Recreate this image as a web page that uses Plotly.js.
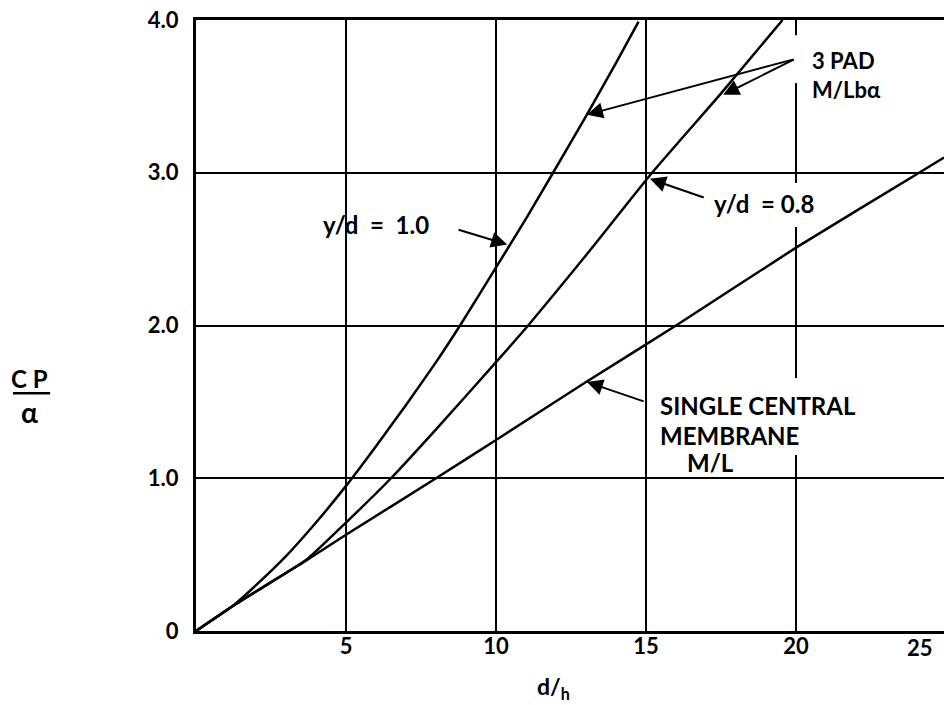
<!DOCTYPE html>
<html>
<head>
<meta charset="utf-8">
<script src="https://cdn.plot.ly/plotly-3.0.1.min.js"></script>
<style>html,body{margin:0;padding:0;background:#fff;}#chart{width:944px;height:705px;}</style>
</head>
<body>
<div id="chart"></div>
<script>
// d/h values and CP/alpha values
const xYd10 = [0, 1.2, 2, 3, 4, 5, 6, 7, 8, 8.8, 10, 11, 11.9, 13, 14, 14.75];
const yYd10 = [0, 0.16, 0.30, 0.49, 0.71, 0.95, 1.21, 1.48, 1.76, 2.0, 2.38, 2.70, 3.0, 3.37, 3.72, 3.99];

const xYd08 = [0, 1.2, 2.5, 3.7, 5, 6.5, 8, 10, 11.07, 13, 15.2, 17.5, 19.55];
const yYd08 = [0, 0.16, 0.32, 0.47, 0.71, 1.0, 1.32, 1.76, 2.0, 2.46, 3.0, 3.52, 4.0];

const xSingle = [0, 1.2, 3.7, 5, 8, 10, 13, 16, 20, 24.1, 24.93];
const ySingle = [0, 0.16, 0.465, 0.63, 1.0, 1.25, 1.63, 2.0, 2.51, 3.0, 3.10];

const xTickVals = [5, 10, 15, 20];
const xTickText = ["5", "10", "15", "20"];
const yTickVals = [0, 1, 2, 3, 4];
const yTickText = ["0", "1.0", "2.0", "3.0", "4.0"];

const FONT = "Lato, 'Open Sans', sans-serif";
const lineStyle = {color: "#000", width: 2.5, shape: "spline", smoothing: 0.5};

const traces = [
  {x: xYd10, y: yYd10, mode: "lines", line: lineStyle, name: "y/d = 1.0", hoverinfo: "skip"},
  {x: xYd08, y: yYd08, mode: "lines", line: lineStyle, name: "y/d = 0.8", hoverinfo: "skip"},
  {x: xSingle, y: ySingle, mode: "lines", line: lineStyle, name: "Single central membrane", hoverinfo: "skip"}
];

function arrow(x, y, ax, ay) {
  return {x: x, y: y, ax: ax, ay: ay, xref: "x", yref: "y", axref: "x", ayref: "y",
          text: "", showarrow: true, arrowhead: 2, arrowsize: 1.6, arrowwidth: 2, arrowcolor: "#000"};
}
function label(text, x, y, xanchor, size) {
  return {x: x, y: y, xref: "x", yref: "y", text: text, showarrow: false, xanchor: xanchor, yanchor: "middle",
          align: "left", font: {family: FONT, size: size || 24, color: "#000", weight: "bold"}};
}

const annotations = [
  label("y/d  =  1.0", 6.0, 2.66, "center"),
  arrow(10.37, 2.53, 8.7, 2.63),
  label("3 PAD<br>M/Lbα", 20.48, 3.643, "left", 22),
  arrow(13.03, 3.38, 19.97, 3.745),
  arrow(17.57, 3.51, 19.97, 3.745),
  label("y/d  = 0.8", 17.2, 2.80, "left"),
  arrow(15.13, 2.96, 16.97, 2.835),
  label("SINGLE CENTRAL", 15.4, 1.475, "left"),
  label("MEMBRANE", 15.4, 1.28, "left"),
  label("M/L", 16.3, 1.10, "left"),
  arrow(13.03, 1.63, 14.97, 1.50),
  {x: 24.13, y: 0, xref: "x", yref: "paper", xanchor: "center", yanchor: "top", yshift: -1, text: "25", showarrow: false,
   font: {family: FONT, size: 22, color: "#000", weight: "bold"}},
  {x: 11.9, y: -0.093, xref: "x", yref: "paper", xanchor: "center", yanchor: "middle", text: "d/<sub>h</sub>", showarrow: false,
   font: {family: FONT, size: 23, color: "#000", weight: "bold"}},
  {x: -0.2225, y: 0.413, xref: "paper", yref: "paper", xanchor: "center", yanchor: "middle", text: "C P", showarrow: false,
   font: {family: FONT, size: 24, color: "#000", weight: "bold"}},
  {x: -0.2225, y: 0.358, xref: "paper", yref: "paper", xanchor: "center", yanchor: "middle", text: "α", showarrow: false,
   font: {family: FONT, size: 28, color: "#000", weight: "bold"}}
];

const gapStyle = {type: "rect", xref: "x", yref: "y", fillcolor: "#fff", line: {width: 0}, layer: "above"};
const shapes = [
  Object.assign({x0: 19.88, x1: 20.12, y0: 3.587, y1: 3.90}, gapStyle),
  Object.assign({x0: 19.88, x1: 20.12, y0: 2.645, y1: 2.933}, gapStyle),
  Object.assign({x0: 19.88, x1: 20.12, y0: 1.152, y1: 1.656}, gapStyle),
  {type: "line", xref: "paper", yref: "paper", x0: -0.2447, x1: -0.195, y0: 0.389, y1: 0.389,
   line: {color: "#000", width: 2.5}}
];

const layout = {
  width: 944, height: 705,
  margin: {l: 196, r: 0, t: 20, b: 74, pad: 0},
  paper_bgcolor: "#fff", plot_bgcolor: "#fff",
  showlegend: false,
  font: {family: FONT, color: "#000"},
  xaxis: {
    range: [0, 24.93], tickvals: xTickVals, ticktext: xTickText, ticks: "",
    showgrid: true, gridcolor: "#000", gridwidth: 2, zeroline: false,
    showline: true, linecolor: "#000", linewidth: 3, mirror: true,
    tickfont: {family: FONT, size: 22, color: "#000", weight: "bold"}, ticklabelstandoff: -6
  },
  yaxis: {
    range: [0, 4.0], tickvals: yTickVals, ticktext: yTickText, ticks: "",
    showgrid: true, gridcolor: "#000", gridwidth: 2, zeroline: false,
    showline: true, linecolor: "#000", linewidth: 3,
    tickfont: {family: FONT, size: 22, color: "#000", weight: "bold"}, ticklabelstandoff: 10
  },
  annotations: annotations,
  shapes: shapes
};

Plotly.newPlot("chart", traces, layout, {displayModeBar: false, staticPlot: true});
</script>
</body>
</html>
